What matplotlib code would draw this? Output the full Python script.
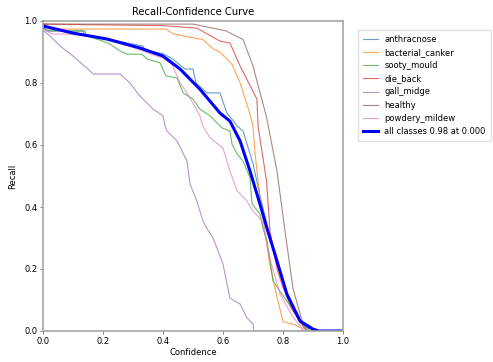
import matplotlib.pyplot as plt

# confidence / recall points (each class ends at 0 recall)
anthracnose_x = [0.0, 0.01, 0.133, 0.14, 0.25, 0.333, 0.34, 0.40, 0.433, 0.473, 0.50, 0.51, 0.547, 0.59, 0.613, 0.633, 0.647, 0.667, 0.70, 0.725, 0.75, 0.775, 0.81, 0.85, 0.88, 0.91, 1.0]
anthracnose_y = [0.985, 0.968, 0.968, 0.955, 0.935, 0.919, 0.905, 0.895, 0.877, 0.845, 0.845, 0.80, 0.768, 0.768, 0.703, 0.68, 0.661, 0.645, 0.54, 0.43, 0.33, 0.24, 0.13, 0.04, 0.01, 0.0, 0.0]

canker_x = [0.0, 0.01, 0.02, 0.41, 0.435, 0.533, 0.567, 0.59, 0.63, 0.657, 0.69, 0.70, 0.707, 0.723, 0.74, 0.755, 0.773, 0.80, 0.84, 0.86, 0.87, 1.0]
canker_y = [0.99, 0.99, 0.974, 0.974, 0.958, 0.94, 0.91, 0.90, 0.86, 0.80, 0.70, 0.66, 0.571, 0.43, 0.32, 0.22, 0.139, 0.03, 0.02, 0.01, 0.0, 0.0]

sooty_x = [0.0, 0.02, 0.14, 0.145, 0.20, 0.223, 0.257, 0.28, 0.33, 0.347, 0.39, 0.41, 0.447, 0.467, 0.50, 0.523, 0.557, 0.59, 0.597, 0.623, 0.63, 0.647, 0.667, 0.69, 0.697, 0.723, 0.733, 0.747, 0.767, 0.813, 0.857, 0.89, 1.0]
sooty_y = [0.98, 0.968, 0.968, 0.952, 0.935, 0.926, 0.903, 0.893, 0.893, 0.877, 0.865, 0.823, 0.816, 0.768, 0.748, 0.716, 0.694, 0.661, 0.655, 0.645, 0.603, 0.571, 0.548, 0.494, 0.41, 0.377, 0.332, 0.29, 0.16, 0.097, 0.03, 0.0, 0.0]

dieback_x = [0.0, 0.4, 0.513, 0.59, 0.623, 0.657, 0.713, 0.717, 0.745, 0.757, 0.78, 0.80, 0.83, 0.87, 0.88, 1.0]
dieback_y = [0.99, 0.985, 0.977, 0.935, 0.929, 0.855, 0.748, 0.66, 0.484, 0.32, 0.20, 0.14, 0.07, 0.01, 0.0, 0.0]

gall_x = [0.0, 0.023, 0.057, 0.10, 0.157, 0.167, 0.257, 0.29, 0.323, 0.367, 0.40, 0.407, 0.413, 0.447, 0.48, 0.49, 0.513, 0.533, 0.547, 0.567, 0.60, 0.623, 0.657, 0.68, 0.70, 0.703, 1.0]
gall_y = [0.97, 0.952, 0.919, 0.887, 0.839, 0.829, 0.829, 0.80, 0.758, 0.716, 0.694, 0.661, 0.645, 0.613, 0.548, 0.474, 0.419, 0.355, 0.33, 0.30, 0.216, 0.106, 0.087, 0.042, 0.023, 0.0, 0.0]

healthy_x = [0.0, 0.5, 0.61, 0.667, 0.70, 0.745, 0.78, 0.807, 0.833, 0.867, 0.88, 1.0]
healthy_y = [0.99, 0.99, 0.968, 0.94, 0.855, 0.69, 0.516, 0.32, 0.139, 0.02, 0.0, 0.0]

mildew_x = [0.0, 0.03, 0.08, 0.17, 0.29, 0.323, 0.40, 0.43, 0.457, 0.48, 0.50, 0.523, 0.533, 0.557, 0.60, 0.623, 0.647, 0.68, 0.70, 0.73, 0.76, 0.79, 0.83, 0.87, 1.0]
mildew_y = [0.975, 0.958, 0.958, 0.95, 0.919, 0.906, 0.88, 0.86, 0.80, 0.768, 0.735, 0.694, 0.661, 0.623, 0.59, 0.516, 0.452, 0.419, 0.387, 0.355, 0.22, 0.12, 0.05, 0.0, 0.0]

mean_x = [0.0, 0.1, 0.213, 0.323, 0.40, 0.457, 0.523, 0.59, 0.623, 0.657, 0.69, 0.723, 0.75, 0.773, 0.813, 0.857, 0.90, 0.92, 1.0]
mean_y = [0.984, 0.961, 0.942, 0.913, 0.887, 0.845, 0.78, 0.703, 0.677, 0.613, 0.516, 0.41, 0.32, 0.248, 0.119, 0.032, 0.006, 0.0, 0.0]

classes = [
    ("anthracnose", anthracnose_x, anthracnose_y),
    ("bacterial_canker", canker_x, canker_y),
    ("sooty_mould", sooty_x, sooty_y),
    ("die_back", dieback_x, dieback_y),
    ("gall_midge", gall_x, gall_y),
    ("healthy", healthy_x, healthy_y),
    ("powdery_mildew", mildew_x, mildew_y),
]

fig = plt.figure(figsize=(4.93, 3.62), dpi=100)
ax = fig.add_axes([43 / 493, 1 - 331 / 362, 300 / 493, 310 / 362])

for name, xs, ys in classes:
    ax.plot(xs, ys, linewidth=0.8, alpha=0.7, label=name)

ax.plot(mean_x, mean_y, linewidth=2.2, color="blue", label="all classes 0.98 at 0.000")

ax.set_xlim(0, 1)
ax.set_ylim(0, 1)
ax.set_xlabel("Confidence", fontsize=6, labelpad=2)
ax.set_ylabel("Recall", fontsize=6, labelpad=5)
ax.set_title("Recall-Confidence Curve", fontsize=7.2, pad=4)
ax.tick_params(labelsize=6, length=2, width=0.6, pad=2, color="0.4")
for s in ax.spines.values():
    s.set_linewidth(1.2)
    s.set_color("0.65")

# legend outside the axes on the right
ax.legend(bbox_to_anchor=(1.035, 0.985), loc="upper left", fontsize=6,
          handlelength=1.8, labelspacing=0.5, borderpad=0.6, edgecolor="0.85")

fig.savefig("out.png", dpi=100)
